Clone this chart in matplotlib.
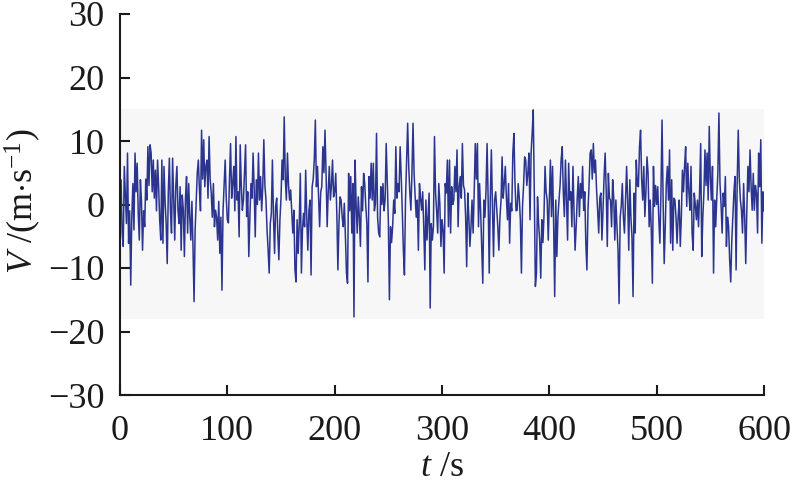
import numpy as np
import matplotlib
matplotlib.use("Agg")
import matplotlib.pyplot as plt

plt.rcParams['font.family'] = ['Liberation Serif', 'DejaVu Serif']
plt.rcParams['mathtext.fontset'] = 'custom'
plt.rcParams['mathtext.rm'] = 'Liberation Serif'
plt.rcParams['mathtext.it'] = 'Liberation Serif:italic'

# wind speed readings, one list per 100 s segment (about 1 value per second)
v_000_100 = [-2.0, 3.9, -4.5, -6.6, 6.0, 1.5, -3.0, 8.1, -6.1, -1.0,
             -12.7, -2.0, 3.3, -4.0, 8.1, 2.0, 6.5, -1.5, -5.6, 3.9,
             0.5, -7.2, -1.0, -3.5, 4.0, 0.7, 9.1, 3.0, 9.4, 8.1,
             2.0, 7.0, 1.0, 5.4, -1.0, 7.0, 2.8, -2.5, -5.6, 7.0,
             -6.1, 6.0, 0.5, -3.0, -9.3, 2.0, 7.3, -1.0, -4.5, 7.3,
             1.0, -5.6, 3.0, 6.0, -0.9, -3.0, 2.8, -7.2, 1.5, -0.9,
             -8.2, 1.0, 4.4, -4.5, 3.3, -2.0, -5.6, 0.5, -6.6, -15.3,
             -4.0, 0.7, 5.0, 7.0, 2.3, -1.0, 11.7, 4.0, 10.2, 2.8,
             6.0, 7.0, 1.0, 10.7, 4.0, 1.8, -2.0, 3.3, -3.5, -0.9,
             -2.0, -5.6, 0.5, -7.7, -2.0, -13.5, -0.9, 3.0, 7.0, 1.0]
v_100_200 = [-2.4, -2.9, 4.0, 9.6, 1.0, 3.3, 6.0, -1.0, 10.7, 0.7,
             2.0, -5.1, 9.4, 3.0, -0.9, 0.7, 5.0, 9.4, -1.9, 2.0,
             -8.2, -2.0, 3.3, 1.0, 8.1, 2.5, -5.1, 3.9, 0.0, 8.1,
             0.7, 4.4, -1.0, 2.8, 10.2, 3.0, 0.7, -4.0, -7.2, -10.8,
             -3.0, -1.4, 7.0, -2.0, -7.7, -0.3, 1.0, -4.5, -8.7, -2.4,
             1.0, 7.0, 3.9, 13.8, 4.0, 0.7, 8.1, 3.0, 0.7, 2.3,
             -1.0, -4.5, -0.9, -10.3, -12.2, -2.4, -7.7, -3.0, 4.9, -10.8,
             -4.0, -1.4, -3.5, 5.4, -2.0, -7.2, -1.0, 0.7, -11.1, 2.8,
             4.0, 7.0, 13.3, 2.8, 6.0, 1.0, -3.5, 2.0, 2.8, 9.1,
             5.0, 11.7, 4.9, -3.5, 2.0, 6.0, 0.7, 3.0, 7.0, 1.2]
v_200_300 = [2.0, 4.9, -1.4, -10.3, -3.0, 1.2, 0.7, -2.0, -3.5, 0.2,
             -5.0, -10.8, -12.4, 4.9, -1.0, 4.4, -4.5, 3.3, -17.7, 7.0,
             0.0, -4.5, 1.2, -2.0, -6.6, 2.8, -1.0, 4.9, 3.3, -0.3,
             -3.0, -12.2, 4.4, 1.0, 6.5, 0.7, 6.5, -1.0, 0.2, 11.2,
             -2.0, -4.5, -5.1, 2.8, 0.0, 3.3, -1.0, 0.7, 9.6, 3.3,
             -2.4, -15.0, -3.5, -6.0, -3.5, 0.7, -1.4, 9.1, 1.0, 3.3,
             2.0, 9.1, 4.4, -1.0, -7.2, -11.1, 0.7, 7.0, 12.8, 6.0,
             2.0, -0.9, 5.0, 12.8, 4.9, 1.2, -2.0, 0.7, -7.2, 3.3,
             1.0, -0.9, 2.0, -3.5, -10.3, 0.7, -5.6, -2.0, 1.8, -16.3,
             -3.0, -5.6, -3.5, 10.7, 1.8, -1.0, -4.5, 3.3, 0.0, -6.6]
v_300_400 = [-2.4, -4.0, -10.8, 3.3, 1.8, 7.0, -3.5, 7.0, -4.5, 2.8,
             0.0, 0.7, 6.0, 2.0, 8.6, -3.5, 2.8, 4.4, 1.0, 9.6,
             3.0, 2.3, -1.9, -9.8, 1.8, -2.0, -6.6, -3.5, 0.7, -4.5,
             2.0, 9.6, 4.0, 9.6, -3.5, 3.3, -1.0, -6.6, -12.4, 0.7,
             -2.0, 2.3, 9.6, 0.7, -10.8, 1.0, 8.6, -0.3, -8.2, 0.7,
             2.0, -0.9, -3.5, -7.2, -2.0, 0.7, 7.5, 1.0, 3.3, 6.0,
             1.0, -2.4, 3.3, -6.1, 0.2, -1.0, 8.1, 11.2, 3.3, -1.0,
             -0.9, 3.3, 1.0, -2.4, -10.8, -0.3, 3.0, 7.5, 7.0, 3.0,
             5.0, 8.1, -2.4, 8.1, 11.2, 14.9, 1.8, -12.9, -10.8, 1.2,
             -3.0, -5.6, -11.6, -2.4, -6.0, -1.9, 6.0, 2.0, 0.7, -5.6]
v_400_500 = [1.0, 7.0, -1.9, 6.0, -3.0, -14.5, 0.7, -8.2, -2.0, 0.7,
             3.0, 7.0, 9.1, 2.0, -1.9, 7.0, 1.0, -5.6, 6.5, 0.7,
             2.0, -3.5, 6.0, -1.0, -7.2, -3.5, 1.0, 4.4, -1.9, 3.3,
             1.0, 6.0, -0.9, 2.0, -6.1, -10.3, -0.9, 3.0, 8.1, 8.6,
             4.0, 9.6, 5.0, 7.0, 2.3, -0.9, -4.5, 1.0, 1.8, -5.6,
             -1.0, 4.4, 8.1, 2.0, -6.6, 4.9, 1.0, 0.7, -3.5, 3.9,
             1.0, -5.6, 0.7, -3.5, -7.2, -15.6, -2.0, -0.3, 3.3, -2.0,
             -4.5, 1.0, 6.0, 0.7, -7.2, 3.9, -2.0, -5.1, -14.5, 1.8,
             -4.5, 7.0, 3.0, 2.8, 9.1, 11.7, 4.0, 0.7, 6.0, -1.9,
             2.0, 7.5, 4.9, -3.5, 0.7, -4.0, -12.4, 6.0, -0.3, 3.0]
v_500_600 = [0.0, 2.8, -2.4, -6.1, 2.0, 13.3, 0.7, -9.3, -3.5, 3.3,
             6.0, 0.7, 8.6, -6.1, 3.9, -7.2, 1.0, 0.7, -1.9, -6.1,
             -2.0, 0.7, -6.6, -1.9, 5.4, 2.0, 6.0, 9.1, -0.3, 6.5,
             2.0, -0.9, 6.0, -4.5, -7.2, 1.8, 0.0, -2.4, 0.7, -3.5,
             2.0, 9.6, -8.2, -1.9, 1.8, 8.6, 3.0, 8.1, 0.7, 12.3,
             4.0, 0.7, 6.0, -10.8, 0.7, -3.5, 1.0, 4.9, 14.4, 3.3,
             0.0, -4.5, 1.8, -0.3, 4.4, -6.6, -2.0, -3.5, -8.7, -12.2,
             -5.6, -1.9, 2.0, 4.4, -10.3, 3.3, 11.7, 4.0, 0.7, -0.9,
             -4.5, 3.3, -2.0, -9.3, -0.9, 6.0, 2.0, 8.6, 2.8, -0.9,
             4.9, -0.9, 3.0, 1.8, -4.5, 8.1, 2.8, 10.2, -6.1, 2.0, -1.0]

x_ticks = [0, 100, 200, 300, 400, 500, 600]
y_ticks = [-30, -20, -10, 0, 10, 20, 30]
band_low, band_high = -18, 15

v = np.array(v_000_100 + v_100_200 + v_200_300 + v_300_400 + v_400_500 + v_500_600)
t = np.linspace(0, 600, len(v))

fig = plt.figure(figsize=(7.96, 4.84), dpi=100)
ax = fig.add_axes([120/796, 1-395/484, 644/796, 381/484])

ax.axhspan(band_low, band_high, color='#f7f7f7', zorder=0, lw=0)
ax.plot(t, v, color='#2b3590', lw=1.1, zorder=2)

ax.set_xlim(0, 600)
ax.set_ylim(-30, 30)
ax.set_xticks(x_ticks)
ax.set_yticks(y_ticks)

for s in ['top', 'right']:
    ax.spines[s].set_visible(False)
for s in ['left', 'bottom']:
    ax.spines[s].set_linewidth(1.5)
    ax.spines[s].set_color('#1a1a1a')

ax.tick_params(axis='both', direction='in', length=7, width=1.5,
               labelsize=26, colors='#1a1a1a')
ax.tick_params(axis='y', pad=11)
ax.tick_params(axis='x', pad=14.5)

ax.set_xlabel(r'$t$ /s', fontsize=26, color='#1a1a1a')
ax.set_ylabel(r'$V$ /(m$\cdot$s$^{-1}$)', fontsize=26, color='#1a1a1a')
ax.xaxis.set_label_coords(0.5, -0.148)
ax.yaxis.set_label_coords(-0.119, 0.51)

fig.savefig('out.png', dpi=100)
